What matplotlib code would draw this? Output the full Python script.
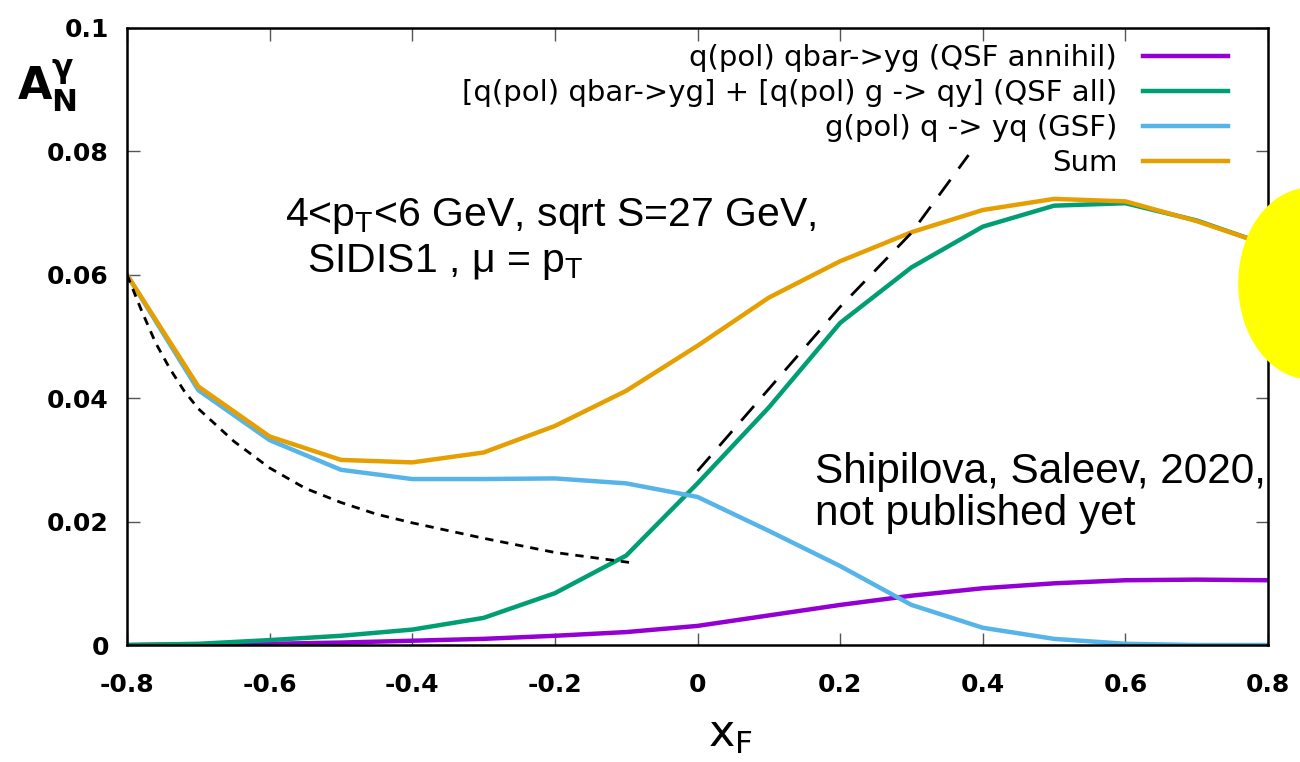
import matplotlib
matplotlib.use("Agg")
import matplotlib.pyplot as plt
from matplotlib.patches import Ellipse

plt.rcParams['font.family'] = ['Liberation Sans', 'DejaVu Sans']
plt.rcParams['axes.unicode_minus'] = False
plt.rcParams['mathtext.fontset'] = 'custom'
plt.rcParams['mathtext.rm'] = 'Liberation Sans'
plt.rcParams['mathtext.bf'] = 'DejaVu Sans:bold'
plt.rcParams['mathtext.it'] = 'Liberation Sans:italic'

# x_F grid of the curves
xf = [-0.8, -0.7, -0.6, -0.5, -0.4, -0.3, -0.2, -0.1, 0.0,
      0.1, 0.2, 0.3, 0.4, 0.5, 0.6, 0.7, 0.8]

qsf_annihil = [0.0, 0.0001, 0.0002, 0.0004, 0.0007, 0.0010, 0.0015, 0.0021, 0.0031,
               0.0048, 0.0065, 0.0080, 0.0092, 0.0100, 0.0105, 0.0106, 0.0105]
qsf_all = [0.0, 0.0002, 0.0008, 0.0015, 0.0025, 0.0044, 0.0084, 0.0145, 0.0262,
           0.0385, 0.0522, 0.0612, 0.0678, 0.0712, 0.0716, 0.0688, 0.0648]
gsf = [0.0600, 0.0413, 0.0332, 0.0284, 0.0269, 0.0269, 0.0270, 0.0262, 0.0240,
       0.0185, 0.0128, 0.0065, 0.0028, 0.0010, 0.0002, 0.0, 0.0]
total = [0.0600, 0.0419, 0.0338, 0.0300, 0.0296, 0.0312, 0.0355, 0.0412, 0.0485,
         0.0563, 0.0622, 0.0669, 0.0705, 0.0723, 0.0719, 0.0687, 0.0648]

# hand-drawn dashed guide lines
dash1_x = [-0.8, -0.78, -0.76, -0.74, -0.72, -0.7, -0.65, -0.6, -0.55,
           -0.5, -0.45, -0.4, -0.3, -0.2, -0.09]
dash1_y = [0.0600, 0.0543, 0.0490, 0.0448, 0.0412, 0.0383, 0.0330, 0.0287, 0.0254,
           0.0231, 0.0212, 0.0198, 0.0173, 0.0150, 0.0133]
dash2_x = [0.0, 0.1, 0.2, 0.3, 0.38]
dash2_y = [0.0282, 0.0415, 0.0548, 0.0668, 0.0794]

labels = ['q(pol) qbar->yg (QSF annihil)',
          '[q(pol) qbar->yg] + [q(pol) g -> qy] (QSF all)',
          'g(pol) q -> yq (GSF)',
          'Sum']
colors = ['#9400D3', '#009E73', '#56B4E9', '#E69F00']

xticks = [-0.8, -0.6, -0.4, -0.2, 0.0, 0.2, 0.4, 0.6, 0.8]
xticklabels = ['-0.8', '-0.6', '-0.4', '-0.2', '0', '0.2', '0.4', '0.6', '0.8']
yticks = [0.0, 0.02, 0.04, 0.06, 0.08, 0.1]
yticklabels = ['0', '0.02', '0.04', '0.06', '0.08', '0.1']

fig = plt.figure(figsize=(13, 7.62), dpi=100)
ax = fig.add_axes([0.0977, 0.1535, 0.8777, 0.8098])

for ys, lab, c in zip([qsf_annihil, qsf_all, gsf, total], labels, colors):
    ax.plot(xf, ys, color=c, lw=3.2, label=lab, solid_joinstyle='round')

ax.plot(dash1_x, dash1_y, color='black', lw=2.0, dashes=(3, 2.5))
ax.plot(dash2_x, dash2_y, color='black', lw=2.0, dashes=(7, 5))

ax.set_xlim(-0.8, 0.8)
ax.set_ylim(0, 0.1)
ax.set_xticks(xticks)
ax.set_xticklabels(xticklabels, fontweight='bold', fontsize=18, family='DejaVu Sans')
ax.set_yticks(yticks)
ax.set_yticklabels(yticklabels, fontweight='bold', fontsize=18, family='DejaVu Sans')
ax.tick_params(direction='in', length=9, width=1.0, color='#555555',
               top=True, right=True)
ax.tick_params(axis='x', pad=20)
ax.tick_params(axis='y', pad=13)
for sp in ax.spines.values():
    sp.set_linewidth(1.8)

leg = ax.legend(loc='upper right', frameon=False, markerfirst=False,
                prop={'family': 'DejaVu Sans', 'size': 21},
                handlelength=2.9, labelspacing=0.24,
                handletextpad=0.9, borderaxespad=0.15, bbox_to_anchor=(0.979, 1.0))

ax.text(-0.578, 0.0679, r'4<p$_\mathregular{T}$<6 GeV, sqrt S=27 GeV,', fontsize=29.5)
ax.text(-0.548, 0.0604, r'SIDIS1 , μ = p$_\mathregular{T}$', fontsize=29.5)
ax.text(0.165, 0.0263, 'Shipilova, Saleev, 2020,', fontsize=30.5)
ax.text(0.165, 0.0194, 'not published yet', fontsize=30.5)

fig.text(0.013, 0.868, r'$\mathbf{A}_{\mathbf{N}}^{\mathbf{\gamma}}$', fontsize=32)
fig.text(0.5615, 0.02, r'x$_\mathregular{F}$', fontsize=32, ha='center',
         family='DejaVu Sans')

fig.patches.append(Ellipse((1.008, 0.628), 0.11, 0.25,
                           transform=fig.transFigure, color='#FFFF00', zorder=10))

fig.savefig('out.png', dpi=100)
